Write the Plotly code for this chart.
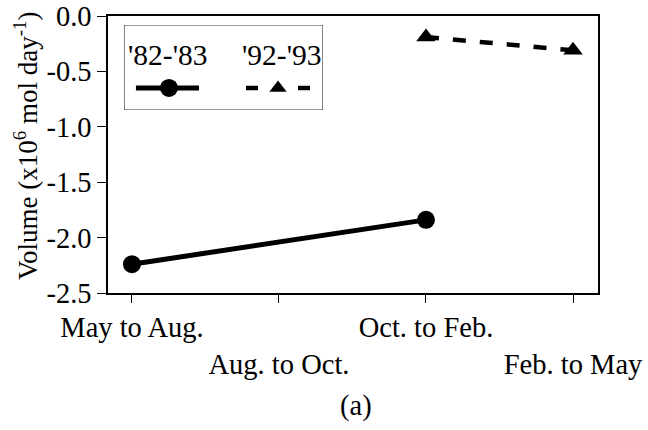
import plotly.graph_objects as go

# ---- data ----
categories = ["May to Aug.", "Aug. to Oct.", "Oct. to Feb.", "Feb. to May"]
series_82_x = ["May to Aug.", "Oct. to Feb."]
series_82_y = [-2.24, -1.84]
series_92_x = ["Oct. to Feb.", "Feb. to May"]
series_92_y = [-0.19, -0.31]
series_names = ["'82-'83", "'92-'93"]
y_tickvals = [0.0, -0.5, -1.0, -1.5, -2.0, -2.5]
y_ticktext = ["0.0", "-0.5", "-1.0", "-1.5", "-2.0", "-2.5"]

FONT = "Liberation Serif, Times New Roman, serif"
FS = 28.5

idx = {c: i for i, c in enumerate(categories)}
# staggered tick labels: every second label on a lower row
x_ticktext = [c if i % 2 == 0 else "<br>" + c for i, c in enumerate(categories)]

W, H = 648, 430
L, R, T, B = 108, 598, 16, 293
pw, ph = R - L, B - T

fig = go.Figure()
fig.add_trace(go.Scatter(
    x=[idx[c] for c in series_82_x], y=series_82_y, mode="lines+markers",
    line=dict(color="black", width=5),
    marker=dict(symbol="circle", size=18, color="black"),
    showlegend=False, cliponaxis=False))
fig.add_trace(go.Scatter(
    x=[idx[c] for c in series_92_x], y=series_92_y, mode="lines+markers",
    line=dict(color="black", width=4.5, dash="13px,14px"),
    marker=dict(symbol="triangle-up", size=17, color="black"),
    showlegend=False, cliponaxis=False))

# ---- custom legend (labels above samples) on auxiliary axes ----
lx0, lx1, ly0, ly1 = 124, 323, 25, 110
fig.add_trace(go.Scatter(x=[0.06, 0.377], y=[0.26, 0.26], mode="lines",
                         line=dict(color="black", width=5),
                         xaxis="x2", yaxis="y2", showlegend=False, hoverinfo="skip"))
fig.add_trace(go.Scatter(x=[0.226], y=[0.26], mode="markers",
                         marker=dict(symbol="circle", size=18, color="black"),
                         xaxis="x2", yaxis="y2", showlegend=False, hoverinfo="skip"))
fig.add_trace(go.Scatter(x=[0.613, 0.935], y=[0.26, 0.26], mode="lines",
                         line=dict(color="black", width=4.5, dash="12px,40px"),
                         xaxis="x2", yaxis="y2", showlegend=False, hoverinfo="skip"))
fig.add_trace(go.Scatter(x=[0.774], y=[0.26], mode="markers",
                         marker=dict(symbol="triangle-up", size=15, color="black"),
                         xaxis="x2", yaxis="y2", showlegend=False, hoverinfo="skip"))

annotations = [
    dict(x=0.221, y=0.647, xref="x2", yref="y2", text=series_names[0], showarrow=False,
         font=dict(family=FONT, size=29.5, color="black")),
    dict(x=0.789, y=0.647, xref="x2", yref="y2", text=series_names[1], showarrow=False,
         font=dict(family=FONT, size=29.5, color="black")),
    dict(x=(26 - L) / pw, y=(B - 146) / ph, xref="paper", yref="paper",
         text="Volume (x10<sup>6</sup> mol day<sup>-1</sup>)", textangle=-90,
         showarrow=False, xanchor="center", yanchor="middle",
         font=dict(family=FONT, size=27, color="black")),
    dict(x=(356 - L) / pw, y=(B - 406) / ph, xref="paper", yref="paper",
         text="(a)", showarrow=False, xanchor="center", yanchor="middle",
         font=dict(family=FONT, size=FS, color="black")),
]

fig.update_layout(
    width=W, height=H,
    margin=dict(l=L, r=W - R, t=T, b=H - B, pad=0, autoexpand=False),
    paper_bgcolor="white", plot_bgcolor="white",
    font=dict(family=FONT, size=FS, color="black"),
    showlegend=False,
    xaxis=dict(range=[-0.163, 3.17], tickvals=list(range(len(categories))),
               ticktext=x_ticktext, ticks="outside", ticklen=8, tickwidth=1.2,
               tickcolor="black", showline=True, linecolor="black", linewidth=1.5,
               mirror=True, showgrid=False, zeroline=False, automargin=False,
               tickfont=dict(family=FONT, size=FS, color="black")),
    yaxis=dict(range=[-2.5, 0.0], tickvals=y_tickvals, ticktext=y_ticktext,
               ticks="outside", ticklen=9, tickwidth=1.2, tickcolor="black",
               showline=True, linecolor="black", linewidth=1.5, mirror=True,
               showgrid=False, zeroline=False, automargin=False,
               tickfont=dict(family=FONT, size=FS, color="black")),
    xaxis2=dict(domain=[(lx0 - L) / pw, (lx1 - L) / pw], range=[0, 1], visible=False,
                anchor="y2", automargin=False),
    yaxis2=dict(domain=[(B - ly1) / ph, (B - ly0) / ph], range=[0, 1], visible=False,
                anchor="x2", automargin=False),
    shapes=[dict(type="rect", xref="x2", yref="y2", x0=0, x1=1, y0=0, y1=1,
                 line=dict(color="#333", width=1.2), fillcolor="rgba(0,0,0,0)")],
    annotations=annotations,
)

fig.write_html("out.html")
